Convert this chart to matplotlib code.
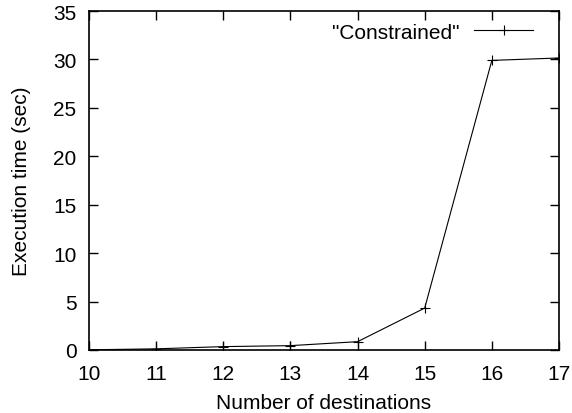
import matplotlib
matplotlib.use("Agg")
import matplotlib.pyplot as plt

# data
destinations = [10, 11, 12, 13, 14, 15, 16, 17]
exec_time = [0.02, 0.12, 0.35, 0.45, 0.86, 4.33, 29.9, 30.15]

plt.rcParams['font.family'] = ['Liberation Sans', 'DejaVu Sans']
plt.rcParams['font.size'] = 15

fig = plt.figure(figsize=(5.72, 4.14), dpi=100)
ax = fig.add_axes([89 / 572, 1 - 351 / 414, 470 / 572, 339 / 414])

ax.plot(destinations, exec_time, color='black', linewidth=0.8,
        marker='+', markersize=7, markeredgewidth=0.8,
        label='"Constrained"')

ax.set_xlim(10, 17)
ax.set_ylim(0, 35)
ax.set_xticks(range(10, 18))
ax.set_yticks(range(0, 36, 5))
ax.tick_params(direction='in', top=True, right=True, length=6.5, width=1)
ax.tick_params(axis='x', pad=10)
ax.tick_params(axis='y', pad=9)
for s in ax.spines.values():
    s.set_linewidth(1.2)

ax.set_xlabel("Number of destinations", labelpad=7)
ax.set_ylabel("Execution time (sec)", labelpad=16)

leg = ax.legend(loc='upper right', bbox_to_anchor=(0.962, 0.99),
                frameon=False, markerfirst=False, borderaxespad=0,
                handlelength=2.8, borderpad=0.4, handletextpad=0.7)

fig.savefig("out.png", dpi=100)
